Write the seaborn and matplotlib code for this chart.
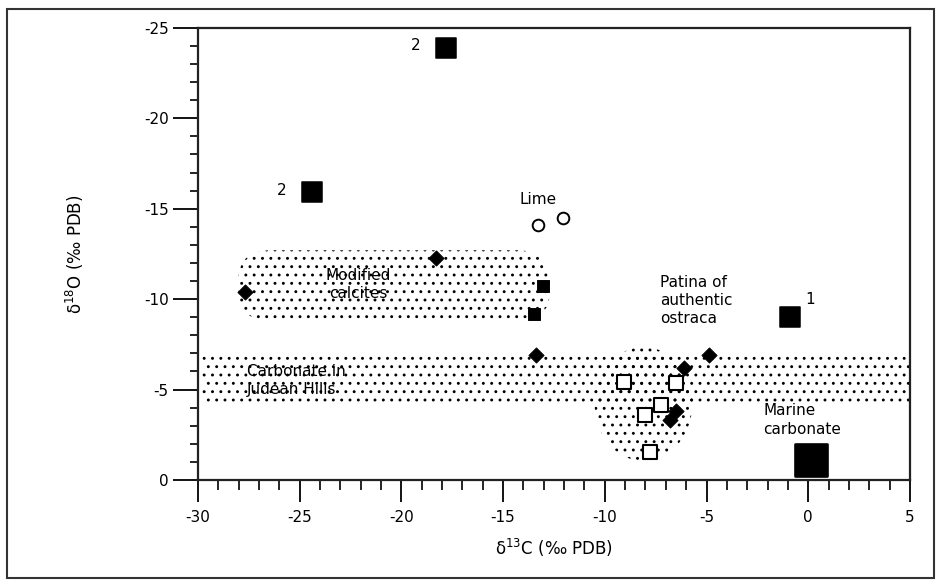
import matplotlib
matplotlib.use("Agg")
import matplotlib.pyplot as plt
import seaborn as sns
from matplotlib.patches import FancyBboxPatch, Ellipse, Rectangle
from matplotlib.ticker import MultipleLocator

# values (d13C, d18O in permil PDB)
big_sq_x = [-17.8, -24.4, -0.9]
big_sq_y = [-23.9, -15.9, -9.0]
big_sq_lab = ["2", "2", "1"]

marine_x = [0.15]
marine_y = [-1.1]

dia_x = [-27.7, -18.3, -13.4, -6.1, -4.9, -6.5, -6.8]
dia_y = [-10.4, -12.3, -6.9, -6.2, -6.9, -3.8, -3.3]

small_sq_x = [-13.05, -13.5]
small_sq_y = [-10.7, -9.2]

open_sq_x = [-9.05, -8.0, -7.26, -6.52, -7.76]
open_sq_y = [-5.4, -3.6, -4.15, -5.37, -1.55]

lime_x = [-13.3, -12.05]
lime_y = [-14.1, -14.5]

sns.set_style("ticks")
plt.rcParams["font.family"] = ["DejaVu Sans"]
plt.rcParams["axes.unicode_minus"] = False
plt.rcParams["hatch.linewidth"] = 0.9
plt.rcParams["text.color"] = "black"
plt.rcParams["xtick.color"] = "black"
plt.rcParams["ytick.color"] = "black"
plt.rcParams["axes.labelcolor"] = "black"

fig = plt.figure(figsize=(9.42, 5.81), dpi=100)
ax = fig.add_axes([0.210, 0.174, 0.756, 0.778])

# stippled fields
calc = FancyBboxPatch((-28.0, -12.7), 15.3, 3.9, boxstyle="round,pad=0,rounding_size=1.6",
                      facecolor="none", edgecolor="black", linewidth=0, hatch="..", zorder=1)
ax.add_patch(calc)
judean = Rectangle((-29.8, -7.1), 34.8, 2.9, facecolor="none", edgecolor="black",
                   linewidth=0, hatch="..", zorder=1)
ax.add_patch(judean)
patina = Ellipse((-8.1, -4.2), 4.8, 6.3, facecolor="none", edgecolor="black",
                 linewidth=0, hatch="..", zorder=1)
ax.add_patch(patina)

# points
sns.scatterplot(x=big_sq_x, y=big_sq_y, marker="s", s=190, color="black", edgecolor="black", ax=ax, zorder=3)
sns.scatterplot(x=marine_x, y=marine_y, marker="s", s=560, color="black", edgecolor="black", ax=ax, zorder=3)
sns.scatterplot(x=dia_x, y=dia_y, marker="D", s=60, color="black", edgecolor="black", ax=ax, zorder=3)
sns.scatterplot(x=small_sq_x, y=small_sq_y, marker="s", s=70, color="black", edgecolor="black", ax=ax, zorder=3)
sns.scatterplot(x=open_sq_x, y=open_sq_y, marker="s", s=110, facecolor="white", edgecolor="black",
                linewidth=1.5, ax=ax, zorder=3)
sns.scatterplot(x=lime_x, y=lime_y, marker="o", s=70, facecolor="white", edgecolor="black",
                linewidth=1.4, ax=ax, zorder=3)

for x, y, t in zip(big_sq_x, big_sq_y, big_sq_lab):
    if t == "1":
        ax.text(x + 1.0, y - 1.0, t, fontsize=11, ha="center", va="center")
    else:
        ax.text(x - 1.5, y - 0.1, t, fontsize=11, ha="center", va="center")

fs = 11
ax.text(-14.2, -15.5, "Lime", fontsize=fs, ha="left", va="center")
ax.text(-22.1, -10.8, "Modified\ncalcites", fontsize=fs, ha="center", va="center",
        linespacing=1.2, zorder=4)
ax.text(-27.6, -5.5, "Carbonate in\nJudean Hills", fontsize=fs, ha="left", va="center",
        linespacing=1.2, zorder=4)
ax.text(-7.3, -9.9, "Patina of\nauthentic\nostraca", fontsize=fs, ha="left", va="center",
        linespacing=1.25, zorder=4)
ax.text(-2.2, -3.3, "Marine\ncarbonate", fontsize=fs, ha="left", va="center",
        linespacing=1.3, zorder=4)

ax.set_xlim(-30, 5)
ax.set_ylim(0, -25)
ax.xaxis.set_major_locator(MultipleLocator(5))
ax.xaxis.set_minor_locator(MultipleLocator(1))
ax.yaxis.set_major_locator(MultipleLocator(5))
ax.yaxis.set_minor_locator(MultipleLocator(1))
ax.tick_params(axis="y", which="major", length=18, width=1.3, direction="out", labelsize=11, pad=3)
ax.tick_params(axis="y", which="minor", length=6, width=1.2, direction="out")
ax.tick_params(axis="x", which="major", length=16, width=1.3, direction="out", labelsize=11, pad=6)
ax.tick_params(axis="x", which="minor", length=7, width=1.2, direction="out")
for sp in ax.spines.values():
    sp.set_linewidth(1.6)
    sp.set_color("#222222")

ax.set_xlabel("δ$^{13}$C (‰ PDB)", fontsize=12, labelpad=8)
ax.set_ylabel("δ$^{18}$O (‰ PDB)", fontsize=12, labelpad=42)

# outer frame around the whole figure
fig.patches.append(Rectangle((0.007, 0.005), 0.984, 0.98, transform=fig.transFigure,
                             fill=False, edgecolor="#333333", linewidth=1.5))

fig.savefig("out.png", dpi=100)
